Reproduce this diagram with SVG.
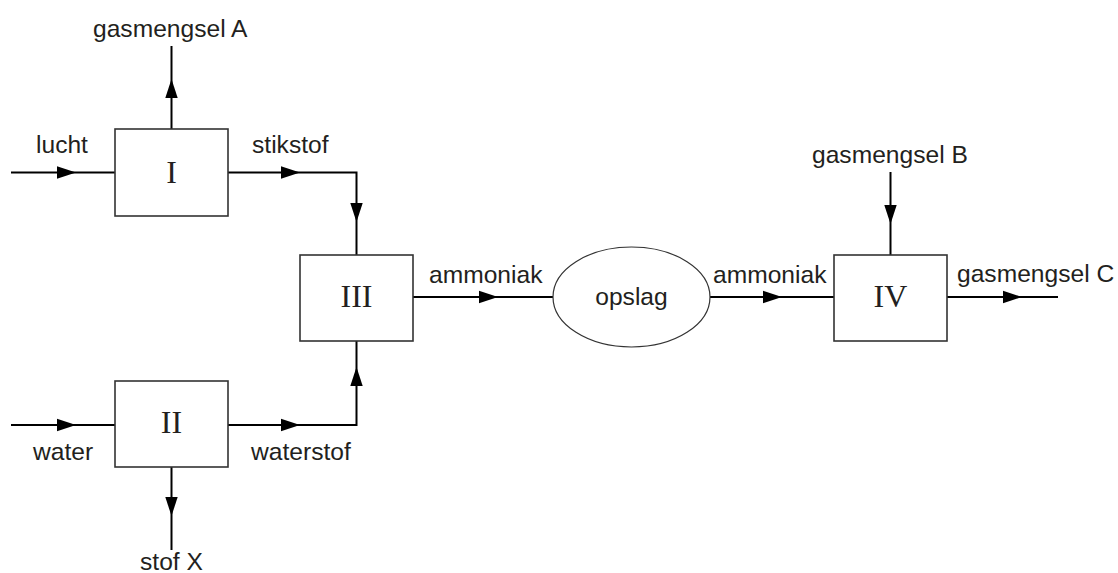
<svg xmlns="http://www.w3.org/2000/svg" width="1118" height="573" viewBox="0 0 1118 573">
<style>
.lbl{font-family:"Liberation Sans",Arial,sans-serif;font-size:24.6px;fill:#231f20}
.num{font-family:"Liberation Serif","Times New Roman",serif;font-size:32px;fill:#231f20;text-anchor:middle}
.box{fill:#fff;stroke:#333;stroke-width:1.6}
.ell{fill:#fff;stroke:#333;stroke-width:1.2}
.ln{fill:none;stroke:#000;stroke-width:2}
</style>
<defs>
<marker id="ah" markerUnits="userSpaceOnUse" markerWidth="20" markerHeight="14" refX="19" refY="7" orient="auto">
<path d="M0,0.8 L19,7 L0,13.2 z" fill="#000"/>
</marker>
</defs>
<rect width="1118" height="573" fill="#fff"/>
<g id="connectors">
<path class="ln" d="M11,172.5 H76" marker-end="url(#ah)"/>
<path class="ln" d="M76,172.5 H115"/>
<path class="ln" d="M171.5,129 V79" marker-end="url(#ah)"/>
<path class="ln" d="M171.5,79 V46"/>
<path class="ln" d="M228,172.5 H300" marker-end="url(#ah)"/>
<path class="ln" d="M300,172.5 H356.5 V222" marker-end="url(#ah)"/>
<path class="ln" d="M356.5,222 V255"/>
<path class="ln" d="M11,425 H76" marker-end="url(#ah)"/>
<path class="ln" d="M76,425 H115"/>
<path class="ln" d="M171.5,467 V516" marker-end="url(#ah)"/>
<path class="ln" d="M171.5,516 V550"/>
<path class="ln" d="M228,425 H300" marker-end="url(#ah)"/>
<path class="ln" d="M300,425 H356.5 V367" marker-end="url(#ah)"/>
<path class="ln" d="M356.5,367 V341"/>
<path class="ln" d="M413,297 H498" marker-end="url(#ah)"/>
<path class="ln" d="M498,297 H553"/>
<path class="ln" d="M710,297 H782" marker-end="url(#ah)"/>
<path class="ln" d="M782,297 H834"/>
<path class="ln" d="M890.5,172 V224" marker-end="url(#ah)"/>
<path class="ln" d="M890.5,224 V255"/>
<path class="ln" d="M947,297 H1022" marker-end="url(#ah)"/>
<path class="ln" d="M1022,297 H1058"/>
</g>
<g id="node-I">
<rect class="box" x="115" y="129" width="113" height="87"/>
<text class="num" x="171.5" y="183">I</text>
</g>
<g id="node-II">
<rect class="box" x="115" y="381" width="113" height="86"/>
<text class="num" x="171.5" y="433">II</text>
</g>
<g id="node-III">
<rect class="box" x="300" y="255" width="113" height="86"/>
<text class="num" x="356.5" y="307">III</text>
</g>
<g id="node-opslag">
<ellipse class="ell" cx="631.5" cy="297" rx="78.5" ry="50"/>
<text class="lbl" x="631.5" y="305" text-anchor="middle">opslag</text>
</g>
<g id="node-IV">
<rect class="box" x="834" y="255" width="113" height="86"/>
<text class="num" x="890.5" y="307">IV</text>
</g>
<g id="labels">
<text class="lbl" x="93" y="37">gasmengsel A</text>
<text class="lbl" x="36" y="153">lucht</text>
<text class="lbl" x="252" y="153">stikstof</text>
<text class="lbl" x="33" y="460">water</text>
<text class="lbl" x="251" y="460">waterstof</text>
<text class="lbl" x="171.5" y="570" text-anchor="middle">stof X</text>
<text class="lbl" x="429" y="283">ammoniak</text>
<text class="lbl" x="713" y="283">ammoniak</text>
<text class="lbl" x="812" y="163">gasmengsel B</text>
<text class="lbl" x="957" y="282">gasmengsel C</text>
</g>
</svg>
